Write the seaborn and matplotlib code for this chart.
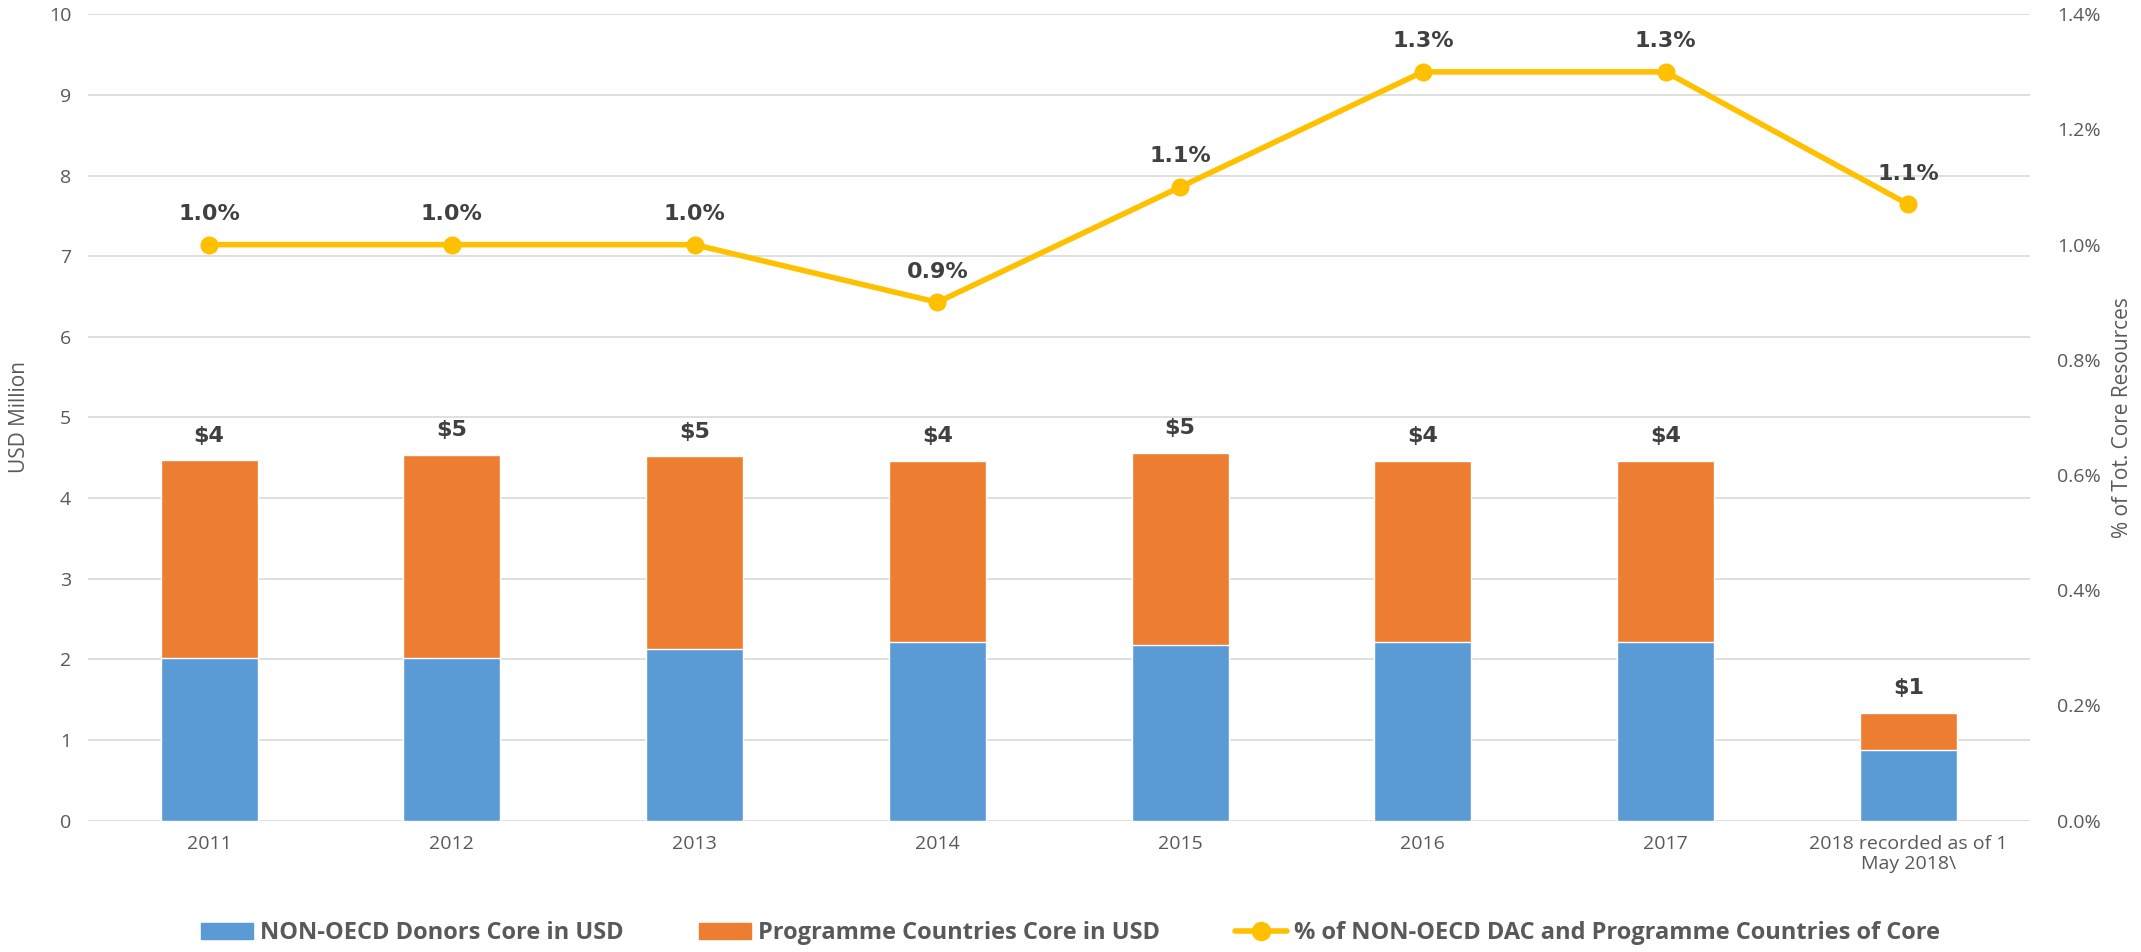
import numpy as np
import pandas as pd
import matplotlib
matplotlib.use("Agg")
import matplotlib.pyplot as plt
from matplotlib.patches import Patch
from matplotlib.lines import Line2D
import seaborn as sns

# data
years = ["2011", "2012", "2013", "2014", "2015", "2016", "2017",
         "2018 recorded as of 1\nMay 2018\\"]
non_oecd = [2.02, 2.02, 2.13, 2.21, 2.18, 2.22, 2.22, 0.88]
programme = [2.45, 2.52, 2.39, 2.25, 2.38, 2.24, 2.24, 0.46]
pct_core = [1.0, 1.0, 1.0, 0.9, 1.1, 1.3, 1.3, 1.07]
bar_labels = ["$4", "$5", "$5", "$4", "$5", "$4", "$4", "$1"]
pct_labels = ["1.0%", "1.0%", "1.0%", "0.9%", "1.1%", "1.3%", "1.3%", "1.1%"]

blue = "#5b9bd5"
orange = "#ed7d31"
gold = "#ffc000"
txt = "#595959"
dark = "#404040"

df = pd.DataFrame({"Year": years, "NonOECD": non_oecd, "Programme": programme})
df["Total"] = df["NonOECD"] + df["Programme"]

sns.set_style("white")
plt.rcParams["font.family"] = ["Open Sans", "DejaVu Sans"]

fig, ax = plt.subplots(figsize=(21.41, 9.52), dpi=100)
fig.subplots_adjust(left=0.041, right=0.948, top=0.985, bottom=0.138)

# stacked bars: orange total behind, blue on top of it
sns.barplot(data=df, x="Year", y="Total", color=orange, width=0.4,
            saturation=1, ax=ax, zorder=2)
sns.barplot(data=df, x="Year", y="NonOECD", color=blue, width=0.4,
            saturation=1, ax=ax, zorder=3)

for i, (t, lab) in enumerate(zip(df["Total"], bar_labels)):
    ax.text(i, t + 0.18, lab, ha="center", va="bottom", fontsize=16,
            fontweight="bold", color=dark, family="DejaVu Sans")

ax.set_ylim(0, 10)
ax.set_yticks(range(0, 11))
ax.set_xlim(-0.5, len(years) - 0.5)
ax.set_xlabel("")
ax.set_ylabel("USD Million", fontsize=15, color=txt)
ax.yaxis.set_label_coords(-0.030, 0.5)
ax.grid(axis="y", color="#d9d9d9", linewidth=1.2, zorder=0)
ax.set_axisbelow(True)
ax.tick_params(axis="x", length=0, labelsize=14, colors=txt, pad=10)
ax.tick_params(axis="y", length=0, labelsize=14, colors=txt, pad=12)
for s in ax.spines.values():
    s.set_visible(False)

# percentage line on secondary axis
ax2 = ax.twinx()
sns.lineplot(x=np.arange(len(years)), y=pct_core, color=gold, linewidth=4,
             marker="o", markersize=13, markeredgewidth=0, ax=ax2, zorder=5)
for i, (v, lab) in enumerate(zip(pct_core, pct_labels)):
    ax2.text(i, v + 0.036, lab, ha="center", va="bottom", fontsize=16,
             fontweight="bold", color=dark, family="DejaVu Sans")
ax2.set_ylim(0, 1.4)
ax2.set_yticks(np.arange(0, 1.41, 0.2))
ax2.set_yticklabels([f"{v:.1f}%" for v in np.arange(0, 1.41, 0.2)])
ax2.set_ylabel("% of Tot. Core Resources", fontsize=15, color=txt, labelpad=8)
ax2.tick_params(axis="y", length=0, labelsize=14, colors=txt, pad=20)
for s in ax2.spines.values():
    s.set_visible(False)

handles = [
    Patch(color=blue, label="NON-OECD Donors Core in USD"),
    Patch(color=orange, label="Programme Countries Core in USD"),
    Line2D([0], [0], color=gold, linewidth=4, marker="o", markersize=13,
           label="% of NON-OECD DAC and Programme Countries of Core"),
]
leg = fig.legend(handles=handles, loc="lower center", ncol=3, frameon=False,
                 bbox_to_anchor=(0.5, -0.015), columnspacing=3.2,
                 handlelength=2.2, handletextpad=0.3,
                 prop={"size": 17, "weight": "bold"})
for t in leg.get_texts():
    t.set_color(txt)

plt.savefig("out.png", dpi=100)
